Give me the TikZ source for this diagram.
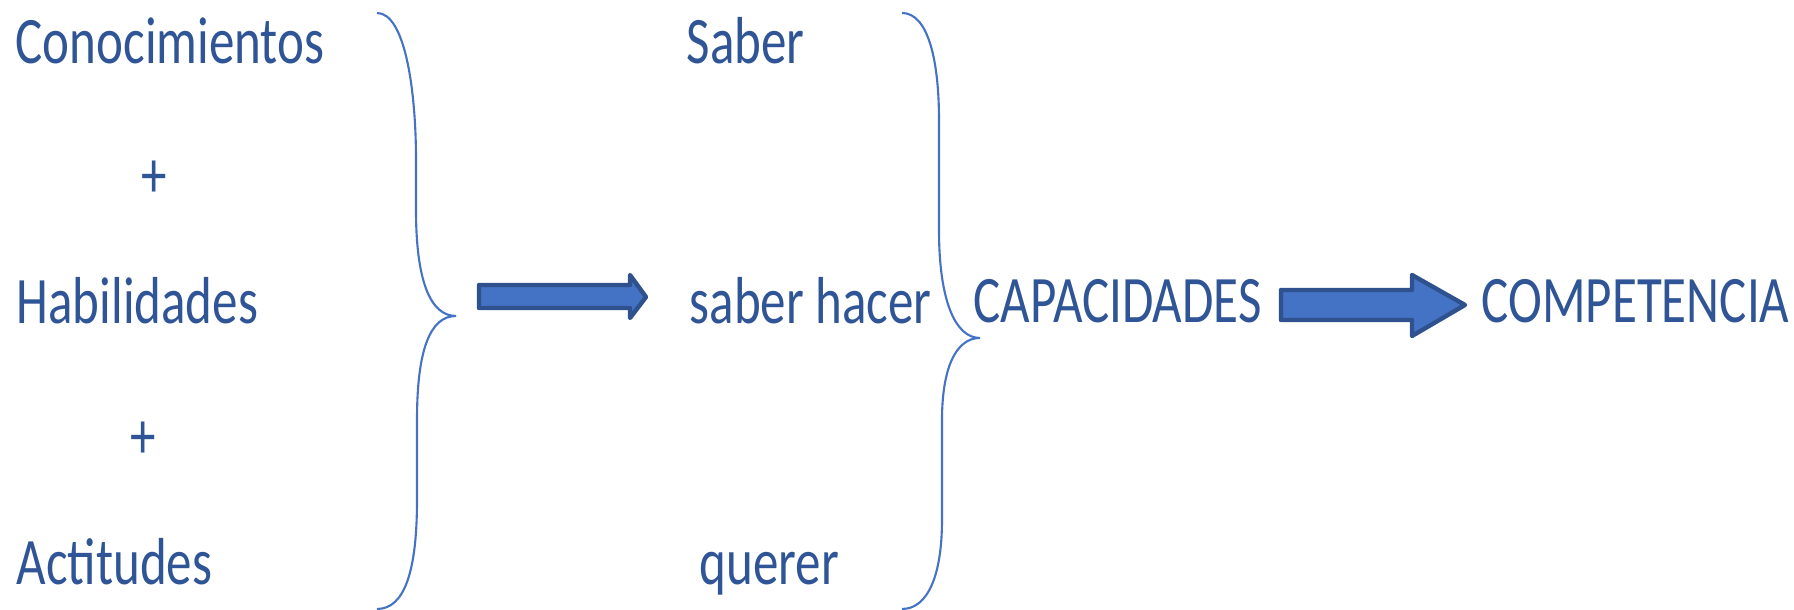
\documentclass[tikz,border=0pt]{standalone}
\usepackage{fontspec}
\setmainfont{Carlito}[FakeStretch=0.768]
\usepackage{xcolor}
\usepackage{tikz}
\usetikzlibrary{positioning}
\definecolor{txtblue}{HTML}{2F5597}
\definecolor{braceblue}{HTML}{4472C4}
\definecolor{arrowedge}{HTML}{2F528F}
\def\pagebox{(0,0) rectangle (17.94,6.10)}
\def\braceA{(3.77,5.97) .. controls (4.05,5.97) and (4.16,5.2) .. (4.16,4.5) -- (4.16,4.0) .. controls (4.16,3.3) and (4.3,2.94) .. (4.56,2.94) .. controls (4.3,2.94) and (4.17,2.6) .. (4.17,1.9) -- (4.17,1.1) .. controls (4.17,0.4) and (4.05,0.01) .. (3.77,0.01)}
\def\braceB{(9.02,5.97) .. controls (9.28,5.97) and (9.39,5.5) .. (9.39,4.9) -- (9.39,3.8) .. controls (9.39,3.1) and (9.55,2.72) .. (9.80,2.72) .. controls (9.55,2.72) and (9.42,2.4) .. (9.42,1.9) -- (9.42,0.9) .. controls (9.42,0.35) and (9.28,0.01) .. (9.02,0.01)}
\def\arrowA{(4.79,3.25) -- (6.30,3.25) -- (6.30,3.35) -- (6.46,3.13) -- (6.30,2.92) -- (6.30,3.02) -- (4.79,3.02) -- cycle}
\def\arrowB{(12.81,3.20) -- (14.12,3.20) -- (14.12,3.35) -- (14.65,3.05) -- (14.12,2.74) -- (14.12,2.90) -- (12.81,2.90) -- cycle}
\tikzset{
lbl/.style={text=txtblue, font=\fontsize{18.9}{22}\selectfont, inner sep=0pt, anchor=base west},
plus/.style={lbl, anchor=base},
curly/.style={draw=braceblue, line width=0.6pt},
fatarrow/.style={fill=braceblue, draw=arrowedge, line width=1.25pt, line join=round}
}

\begin{document}
\begin{tikzpicture}
	\useasboundingbox \pagebox;
	\node[lbl] (cono) at (0.15,5.46) {Conocimientos};
	\node[plus] (plusA) at (1.545,4.12) {+};
	\node[lbl] (habil) at (0.16,2.86) {Habilidades};
	\node[plus] (plusB) at (1.43,1.51) {+};
	\node[lbl] (actit) at (0.16,0.25) {Actitudes};
	\node[lbl] (saber) at (6.86,5.46) {Saber};
	\node[lbl] (saberhacer) at (6.89,2.86) {saber hacer};
	\node[lbl] (querer) at (6.99,0.25) {querer};
	\node[lbl] (capac) at (9.73,2.87) {CAPACIDADES};
	\node[lbl] (compet) at (14.81,2.87) {COMPETENCIA};
 \draw[curly] \braceA \braceB;
 \filldraw[fatarrow] \arrowA \arrowB;
\end{tikzpicture}
\end{document}
